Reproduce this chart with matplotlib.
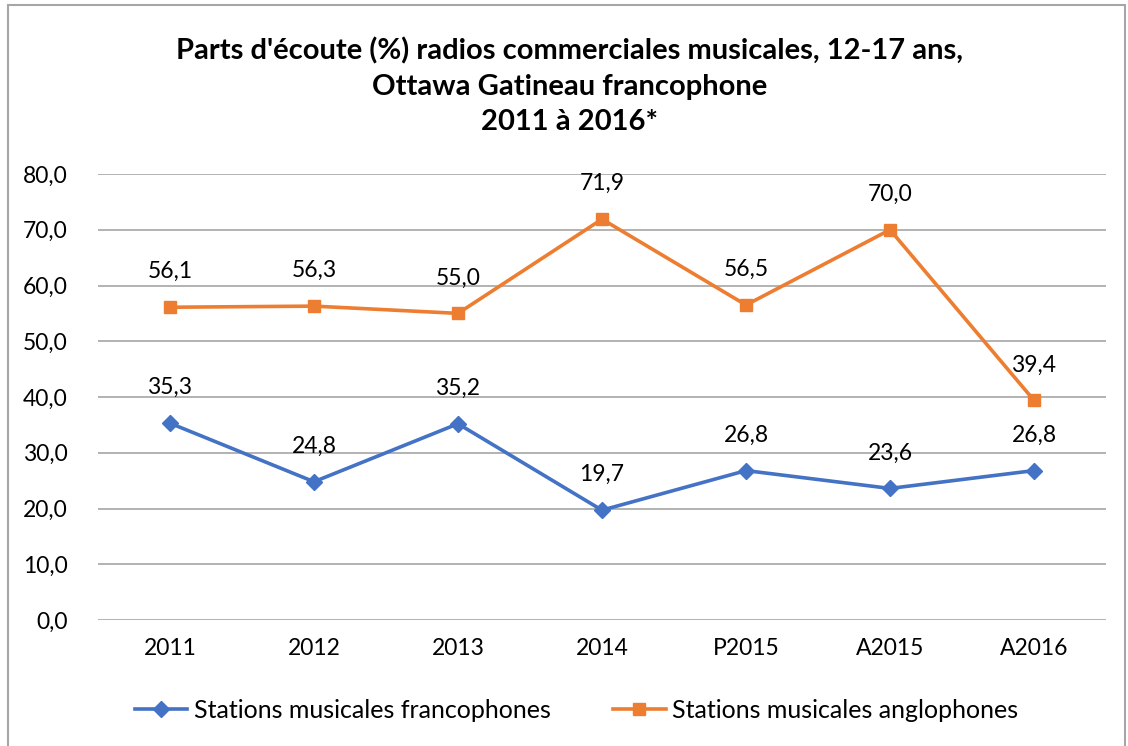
import matplotlib
matplotlib.use("Agg")
import matplotlib.pyplot as plt
from matplotlib.patches import Rectangle

categories = ["2011", "2012", "2013", "2014", "P2015", "A2015", "A2016"]
franco = [35.3, 24.8, 35.2, 19.7, 26.8, 23.6, 26.8]
anglo = [56.1, 56.3, 55.0, 71.9, 56.5, 70.0, 39.4]
series_names = ["Stations musicales francophones", "Stations musicales anglophones"]
title = "Parts d'écoute (%) radios commerciales musicales, 12-17 ans,\nOttawa Gatineau francophone\n2011 à 2016*"

plt.rcParams['font.family'] = ['Lato', 'DejaVu Sans']

fig = plt.figure(figsize=(11.28, 7.46), dpi=100)
fig.patch.set_facecolor("white")
fig.patches.append(Rectangle((8/1128, -0.01), (1125-8)/1128, 1 - 5/746 + 0.01,
                             transform=fig.transFigure, fill=False,
                             edgecolor="#A6A6A6", linewidth=1.5))

ax = fig.add_axes([98/1128, 1 - 620/746, (1106-98)/1128, (620-174)/746])
x = list(range(len(categories)))
blue = "#4472C4"
orange = "#ED7D31"
ax.plot(x, franco, color=blue, lw=2.6, marker="D", markersize=8, label=series_names[0], zorder=3)
ax.plot(x, anglo, color=orange, lw=2.6, marker="s", markersize=9, label=series_names[1], zorder=3)

for xi, v in zip(x, franco):
    ax.annotate(f"{v:.1f}".replace(".", ","), (xi, v), xytext=(0, 18), textcoords="offset points",
                ha="center", va="bottom", fontsize=16.5, color="#000000")
for xi, v in zip(x, anglo):
    ax.annotate(f"{v:.1f}".replace(".", ","), (xi, v), xytext=(0, 18), textcoords="offset points",
                ha="center", va="bottom", fontsize=16.5, color="#000000")

ax.set_xlim(-0.5, len(categories) - 0.5)
ax.set_ylim(0, 80)
ax.set_yticks(range(0, 81, 10))
ax.set_yticklabels([f"{t:.1f}".replace(".", ",") for t in range(0, 81, 10)], fontsize=16.5)
ax.set_xticks(x)
ax.set_xticklabels(categories, fontsize=16.5)
ax.tick_params(length=0, pad=13)
ax.tick_params(axis="y", pad=22)
ax.grid(axis="y", color="#A6A6A6", lw=1.2)
ax.set_axisbelow(True)
for s in ax.spines.values():
    s.set_visible(False)

fig.text(0.505, 1 - 86/746, title, ha="center", va="center", fontsize=21, fontweight="bold",
         linespacing=1.45)

fig.legend(loc="center", bbox_to_anchor=(0.511, 1 - 710/746), ncol=2, frameon=False,
           fontsize=18, handlelength=2.1, columnspacing=2.5, handletextpad=0.25)

fig.savefig("out.png", dpi=100, facecolor="white")
